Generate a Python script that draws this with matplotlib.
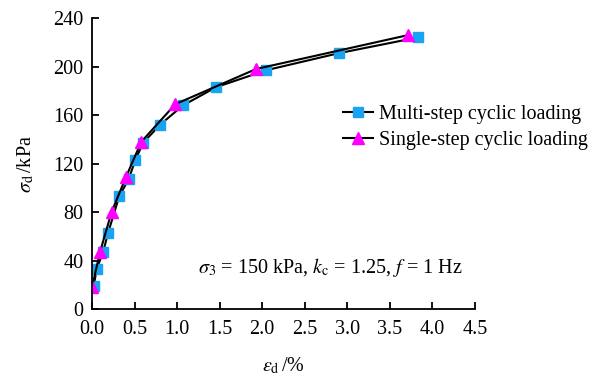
import matplotlib
matplotlib.use("Agg")
import matplotlib.pyplot as plt

plt.rcParams["font.family"] = ["Liberation Serif", "DejaVu Serif"]
plt.rcParams["mathtext.fontset"] = "stix"

# strain (%) vs dynamic stress (kPa)
multi_eps = [0.02, 0.055, 0.13, 0.19, 0.32, 0.43, 0.51, 0.60, 0.80, 1.07, 1.46, 2.05, 2.90, 3.83]
multi_sig = [19, 33, 47, 63, 93, 107, 123, 137, 152, 168, 183, 197, 211, 224]
single_eps = [0.0, 0.094, 0.23, 0.40, 0.58, 0.98, 1.93, 3.72]
single_sig = [18, 47, 80, 109, 138, 169, 198, 226]

fs = 14.5

fig = plt.figure(figsize=(5.99, 3.76), dpi=100)
ax = fig.add_axes([0.1536, 0.178, 0.639, 0.774])

ax.plot(multi_eps, multi_sig, color="black", lw=1.5, marker="s", ms=6.5,
        mfc="#1aa3f0", mec="#1aa3f0", label="Multi-step cyclic loading")
ax.plot(single_eps, single_sig, color="black", lw=1.5, marker="^", ms=8.5,
        mfc="#ff00ff", mec="#ff00ff", label="Single-step cyclic loading")

ax.set_xlim(0, 4.5)
ax.set_ylim(0, 240)
ax.set_xticks([0, 0.5, 1.0, 1.5, 2.0, 2.5, 3.0, 3.5, 4.0, 4.5])
ax.set_xticklabels(["0.0", "0.5", "1.0", "1.5", "2.0", "2.5", "3.0", "3.5", "4.0", "4.5"])
ax.set_yticks(range(0, 241, 40))
ax.tick_params(direction="in", length=5, width=1.3, labelsize=fs)
ax.tick_params(axis="x", pad=8)
ax.tick_params(axis="y", pad=6)
for s in ["top", "right"]:
    ax.spines[s].set_visible(False)
for s in ["left", "bottom"]:
    ax.spines[s].set_linewidth(1.3)

ax.set_xlabel(r"$\varepsilon_{\mathrm{d}}\,$/%", fontsize=fs, labelpad=12)
ax.set_ylabel(r"$\sigma_{\mathrm{d}}\,$/kPa", fontsize=fs, labelpad=12)

ax.text(2.8, 34, r"$\sigma_3$ = 150 kPa, $k_{\mathrm{c}}$ = 1.25, $f$ = 1 Hz",
        fontsize=fs, ha="center", va="center")

ax.legend(loc="upper left", bbox_to_anchor=(0.655, 0.70), frameon=False,
          fontsize=fs, handlelength=1.5, handletextpad=0.3, labelspacing=0.3,
          borderaxespad=0, borderpad=0)

fig.savefig("out.png", dpi=100)
